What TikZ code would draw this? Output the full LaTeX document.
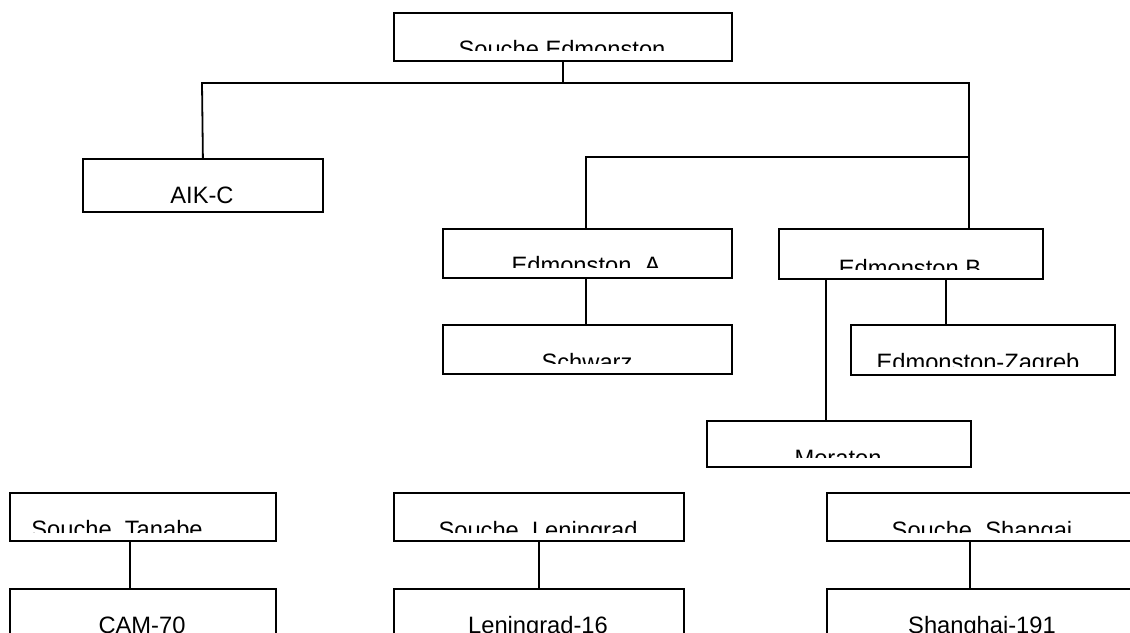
\documentclass[tikz,border=0pt]{standalone}
\usepackage{fontspec}
\setmainfont{Liberation Sans}
\tikzset{
  box/.style={draw=black, line width=1.8pt, rectangle, inner sep=0pt, anchor=north west},
  lbl/.style={anchor=base, inner sep=0pt, font=\fontsize{23.7}{28}\selectfont, text=black},
  conn/.style={draw=black, line width=1.8pt}
}
\begin{document}
\begin{tikzpicture}[x=1pt,y=-1pt]
\clip (0,0) rectangle (1130,632);
\fill[white] (0,0) rectangle (1130,632);
% boxes
\node[box, minimum width=338pt, minimum height=48pt] (edm) at (393,12) {};
\node[box, minimum width=240pt, minimum height=53pt] (aik) at (82,158) {};
\node[box, minimum width=289pt, minimum height=49pt] (edmA) at (442,228) {};
\node[box, minimum width=264pt, minimum height=50pt] (edmB) at (778,228) {};
\node[box, minimum width=289pt, minimum height=49pt] (schw) at (442,324) {};
\node[box, minimum width=264pt, minimum height=50pt] (zag) at (850,324) {};
\node[box, minimum width=264pt, minimum height=46pt] (mor) at (706,420) {};
\node[box, minimum width=266pt, minimum height=48pt] (tan) at (9,492) {};
\node[box, minimum width=266pt, minimum height=60pt] (cam) at (9,588) {};
\node[box, minimum width=290pt, minimum height=48pt] (len) at (393,492) {};
\node[box, minimum width=290pt, minimum height=60pt] (len16) at (393,588) {};
\node[box, minimum width=312pt, minimum height=48pt] (sha) at (826,492) {};
\node[box, minimum width=312pt, minimum height=60pt] (sha191) at (826,588) {};
% labels (clipped as in the reference)
\begin{scope}\clip (393,12) rectangle (731,50);
\node[lbl] (edmT) at (562,57) {Souche Edmonston};\end{scope}
\node[lbl] (aikT) at (202,203) {AIK-C};
\begin{scope}\clip (442,228) rectangle (731,267);
\node[lbl] (edmAT) at (586,273) {Edmonston\ \ A};\end{scope}
\begin{scope}\clip (778,228) rectangle (1042,269);
\node[lbl] (edmBT) at (910,276) {Edmonston B};\end{scope}
\begin{scope}\clip (442,324) rectangle (731,363);
\node[lbl] (schwT) at (587,370) {Schwarz};\end{scope}
\begin{scope}\clip (850,324) rectangle (1114,366);
\node[lbl] (zagT) at (978,370) {Edmonston-Zagreb};\end{scope}
\begin{scope}\clip (706,420) rectangle (970,457);
\node[lbl] (morT) at (838,466) {Moraton};\end{scope}
\begin{scope}\clip (9,492) rectangle (275,532);
\node[lbl] (tanT) at (117,537) {Souche\ \ Tanabe};\end{scope}
\node[lbl] (camT) at (142,633) {CAM-70};
\begin{scope}\clip (393,492) rectangle (683,532);
\node[lbl] (lenT) at (538,538) {Souche\ \ Leningrad};\end{scope}
\node[lbl] (len16T) at (538,633) {Leningrad-16};
\begin{scope}\clip (826,492) rectangle (1130,532);
\node[lbl] (shaT) at (982,538) {Souche\ \ Shangai};\end{scope}
\node[lbl] (sha191T) at (982,633) {Shanghai-191};
% connector coordinates
\coordinate (hL) at (202,83);
\coordinate (hR) at (969,83);
\coordinate (h2L) at (586,157);
\coordinate (h2R) at (969,157);
\coordinate (xm) at (826,0);
\coordinate (xz) at (946,0);
\coordinate (xt) at (130,0);
\coordinate (xs) at (970,0);
% connectors
\draw[conn] (edm.south) -- (edm.south |- hL);
\draw[conn] (aik.north) -- (hL) -- (hR) -- (edmB.north -| hR);
\draw[conn] (edmA.north -| h2L) -- (h2L) -- (h2R);
\draw[conn] (edmA.south -| h2L) -- (schw.north -| h2L);
\draw[conn] (edmB.south -| xm) -- (mor.north -| xm);
\draw[conn] (edmB.south -| xz) -- (zag.north -| xz);
\draw[conn] (tan.south -| xt) -- (cam.north -| xt);
\draw[conn] (len.south) -- (len16.north);
\draw[conn] (sha.south -| xs) -- (sha191.north -| xs);
\end{tikzpicture}
\end{document}
